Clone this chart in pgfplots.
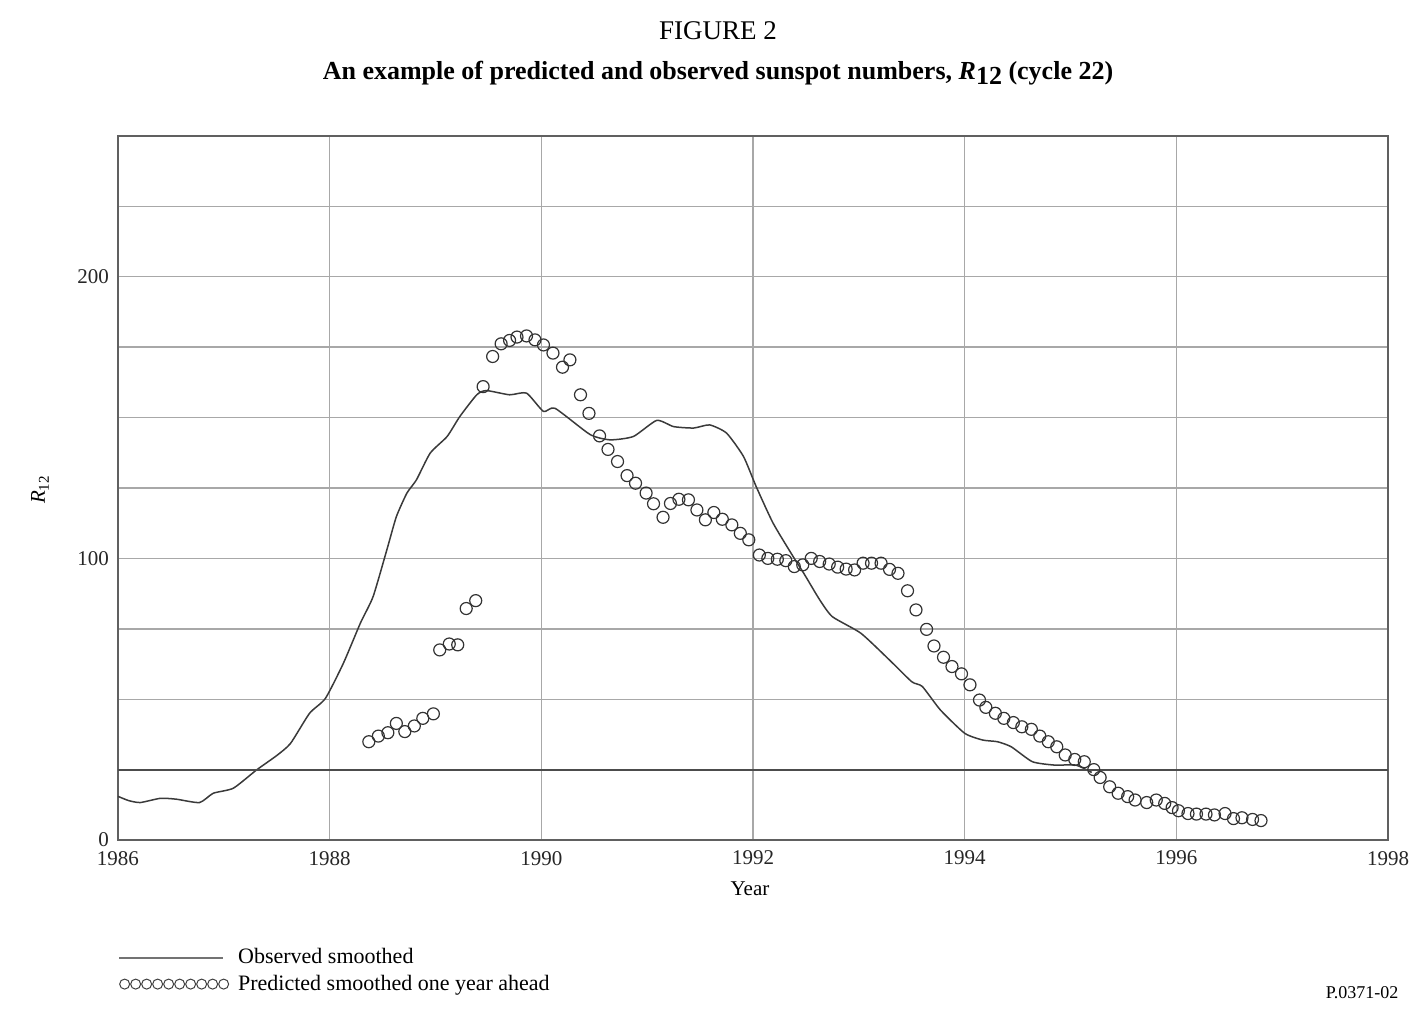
\documentclass[border=0pt]{standalone}
\usepackage{fontspec}
\setmainfont{Liberation Serif}
\usepackage{pgfplots}
\pgfplotsset{compat=1.18}

\definecolor{gridgray}{HTML}{A8A8A8}
\definecolor{framegray}{HTML}{606060}
\definecolor{linegray}{HTML}{3A3A3A}

\pgfplotstableread{
year r12
1986.00 15.5
1986.10 14.0
1986.21 13.3
1986.40 14.8
1986.55 14.5
1986.77 13.3
1986.90 16.6
1987.09 18.4
1987.31 24.9
1987.50 30.0
1987.63 34.3
1987.81 45.0
1987.96 50.3
1988.13 62.8
1988.29 77.0
1988.41 86.4
1988.54 103.0
1988.63 114.8
1988.73 123.2
1988.82 127.9
1988.95 137.4
1989.11 143.3
1989.23 150.4
1989.39 158.1
1989.48 159.6
1989.70 158.1
1989.86 158.7
1990.02 152.2
1990.13 153.3
1990.46 144.0
1990.65 142.1
1990.87 143.3
1991.09 149.0
1991.25 146.8
1991.44 146.3
1991.59 147.4
1991.75 144.5
1991.91 136.2
1992.03 125.5
1992.19 112.5
1992.38 100.6
1992.48 94.7
1992.63 85.3
1992.75 79.3
1993.02 73.4
1993.29 63.9
1993.50 56.2
1993.60 54.5
1993.77 46.2
1994.00 37.9
1994.17 35.5
1994.31 34.9
1994.44 33.1
1994.64 27.8
1994.85 26.6
1995.05 26.6
1995.20 24.0
}\observed

\pgfplotstableread{
year r12
1988.37 34.9
1988.46 36.9
1988.55 38.1
1988.63 41.4
1988.71 38.5
1988.80 40.5
1988.88 43.2
1988.98 44.8
1989.04 67.5
1989.13 69.6
1989.21 69.3
1989.29 82.2
1989.38 85.0
1989.45 161.0
1989.54 171.7
1989.62 176.2
1989.70 177.4
1989.77 178.6
1989.86 179.0
1989.94 177.6
1990.02 175.8
1990.11 172.9
1990.20 167.9
1990.27 170.5
1990.37 158.1
1990.45 151.5
1990.55 143.5
1990.63 138.7
1990.72 134.4
1990.81 129.4
1990.89 126.7
1990.99 123.2
1991.06 119.4
1991.15 114.6
1991.22 119.5
1991.30 121.0
1991.39 120.8
1991.47 117.2
1991.55 113.7
1991.63 116.3
1991.71 113.9
1991.80 111.9
1991.88 108.9
1991.96 106.6
1992.06 101.2
1992.14 100.0
1992.23 99.7
1992.31 99.2
1992.39 97.1
1992.47 97.7
1992.55 100.0
1992.63 98.9
1992.72 98.0
1992.80 96.9
1992.88 96.2
1992.96 95.9
1993.04 98.3
1993.12 98.3
1993.21 98.3
1993.29 96.1
1993.37 94.7
1993.46 88.5
1993.54 81.7
1993.64 74.8
1993.71 68.9
1993.80 64.9
1993.88 61.6
1993.97 59.0
1994.05 55.1
1994.14 49.7
1994.20 47.1
1994.29 45.0
1994.37 43.2
1994.46 41.7
1994.54 40.2
1994.63 39.3
1994.71 36.9
1994.79 34.9
1994.87 33.1
1994.95 30.2
1995.04 28.6
1995.13 27.8
1995.22 25.0
1995.28 22.2
1995.37 18.9
1995.45 16.6
1995.54 15.4
1995.61 14.2
1995.72 13.3
1995.81 14.2
1995.89 13.0
1995.96 11.5
1996.02 10.4
1996.11 9.4
1996.19 9.2
1996.28 9.2
1996.36 8.9
1996.46 9.4
1996.54 7.6
1996.62 7.9
1996.72 7.3
1996.80 6.9
}\predicted

\begin{document}
\begin{tikzpicture}
\path[use as bounding box] (-59pt,-85.5pt) rectangle (654.5pt,420pt);
\begin{axis}[
    at={(0pt,0pt)}, anchor=south west,
    scale only axis,
    width=635pt, height=352pt,
    xmin=1986, xmax=1998,
    ymin=0, ymax=250,
    xtick={1986,1988,...,1998},
    ytick={0,100,200},
    minor ytick={25,50,75,125,150,175,225,250},
    xmajorgrids=true, ymajorgrids=true, yminorgrids=true,
    major grid style={gridgray, line width=0.7pt},
    minor grid style={gridgray, line width=0.7pt},
    major tick length=0pt, minor tick length=0pt,
    axis line style={framegray, line width=0.9pt},
    tick label style={font=\fontsize{10.5}{12}\selectfont, text=black!85},
    /pgf/number format/assume math mode=true,
    /pgf/number format/1000 sep={},
    xticklabel style={yshift=-2pt},
    yticklabel style={xshift=-1pt},
    clip=false,
    legend style={draw=none, fill=none, at={(0,-0.151)}, anchor=north west,
        font=\fontsize{11}{13}\selectfont, row sep=2pt, column sep=3.5pt,
        inner sep=0pt, nodes={inner sep=1pt}},
    legend cell align=left,
]
\addplot[linegray, line width=0.75pt, smooth, tension=0.35,
    legend image code/.code={\draw[black!55, line width=0.75pt] (0pt,0pt) -- (52pt,0pt);}]
    table[x=year, y=r12] {\observed};
\addlegendentry{Observed smoothed}
\addplot[only marks, mark=o, mark size=3pt, mark options={black!80, line width=0.6pt},
    legend image code/.code={\foreach \k in {0,...,9}{\draw[black!75, line width=0.5pt] (2.75pt+\k*5.5pt,0pt) circle[radius=2.5pt];}}]
    table[x=year, y=r12] {\predicted};
\addlegendentry{Predicted smoothed one year ahead}
\draw[black!70, line width=0.9pt] (axis cs:1986,25) -- (axis cs:1998,25);
\end{axis}
\node[font=\fontsize{13.5}{15}\selectfont] at (300pt,404.5pt) {FIGURE 2};
\node[font=\fontsize{13}{15}\selectfont\bfseries] at (300pt,383.5pt)
    {An example of predicted and observed sunspot numbers, \textit{R}\raisebox{-0.45ex}{12} (cycle 22)};
\node[rotate=90, font=\fontsize{10.5}{12}\selectfont] at (-39pt,175pt) {\textit{R}\raisebox{-0.4ex}{\fontsize{7.5}{9}\selectfont 12}};
\node[font=\fontsize{10.5}{12}\selectfont] at (316pt,-24.5pt) {Year};
\node[font=\fontsize{9}{11}\selectfont] at (622pt,-76.5pt) {P.0371-02};
\end{tikzpicture}
\end{document}
